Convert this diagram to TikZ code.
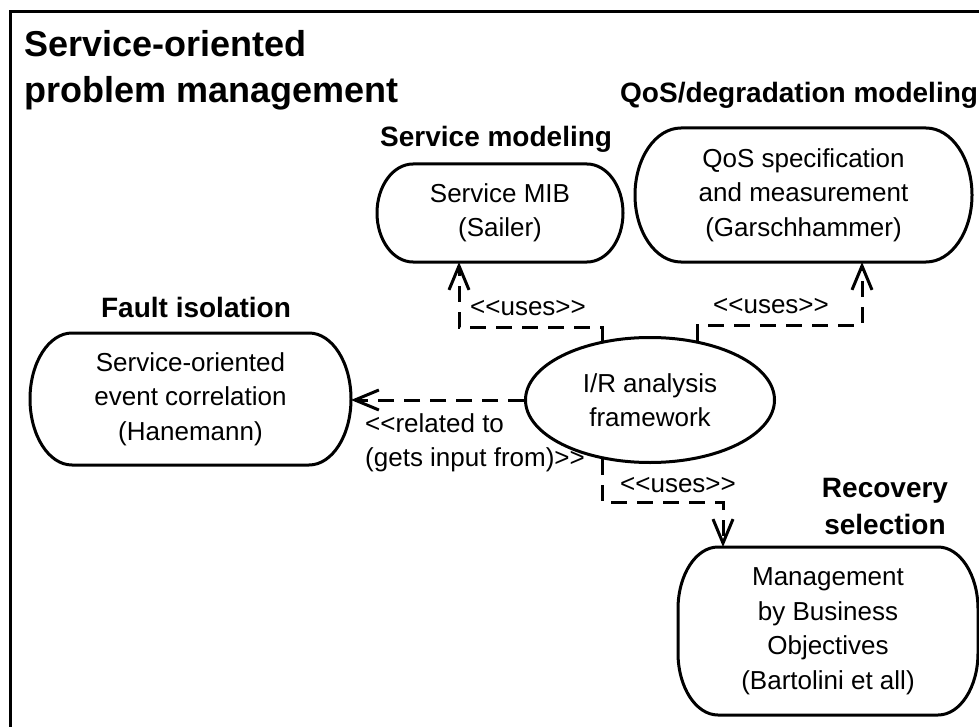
\documentclass[tikz,border=0pt]{standalone}
\usepackage{fontspec}
\setmainfont{Liberation Sans}[Ligatures=TeXOff]
\usetikzlibrary{arrows.meta,shapes.geometric,calc}

% outline of a box whose corners are quarter ellipses (x radius #2, y radius #3)
\newcommand\ellbox[3]{%
  \draw[line width=3pt]
    ($(#1.north west)+(#2,0)$) -- ($(#1.north east)+(-#2,0)$)
    .. controls ($(#1.north east)+(-0.448*#2,0)$) and ($(#1.north east)+(0,0.448*#3)$)
    .. ($(#1.north east)+(0,#3)$)
    -- ($(#1.south east)+(0,-#3)$)
    .. controls ($(#1.south east)+(0,-0.448*#3)$) and ($(#1.south east)+(-0.448*#2,0)$)
    .. ($(#1.south east)+(-#2,0)$)
    -- ($(#1.south west)+(#2,0)$)
    .. controls ($(#1.south west)+(0.448*#2,0)$) and ($(#1.south west)+(0,-0.448*#3)$)
    .. ($(#1.south west)+(0,-#3)$)
    -- ($(#1.north west)+(0,#3)$)
    .. controls ($(#1.north west)+(0,0.448*#3)$) and ($(#1.north west)+(0.448*#2,0)$)
    .. cycle;}

\begin{document}
\begin{tikzpicture}[x=1pt,y=-1pt,
  txt/.style={font=\fontsize{26}{34.5}\selectfont, align=center, inner sep=0pt},
  head/.style={font=\fontsize{28}{37}\selectfont\bfseries, align=center, inner sep=0pt},
  titletext/.style={font=\fontsize{36}{47}\selectfont\bfseries, inner sep=0pt},
  box/.style={txt, outer sep=0pt},
  conn/.style={line width=3pt, dash pattern=on 16pt off 10pt,
    -{Straight Barb[length=24pt,width=20pt]}},
]
\useasboundingbox (0,0) rectangle (979,727);
\clip (0,0) rectangle (979,727);

% outer frame (continues past the right and bottom edges)
\draw[line width=3pt] (10,12) rectangle (1100,900);

% title
\node[titletext, anchor=base west] (t1) at (24,57) {Service-oriented};
\node[titletext, anchor=base west] (t2) at (24,103) {problem management};

% area headings
\node[head, anchor=base west] (hqos) at (620,103) {QoS/degradation modeling};
\node[head, anchor=base west] (hsm) at (380,147) {Service modeling};
\node[head, anchor=base] (hfi) at (196,317) {Fault isolation};
\node[head] (hrs) at (885,507) {Recovery\\selection};

% components
\node[box, minimum width=246pt, minimum height=98pt] (sm) at (500,213)
  {Service MIB\\(Sailer)};
\node[box, minimum width=337pt, minimum height=134pt] (qos) at (803.5,195)
  {QoS specification\\and measurement\\(Garschhammer)};
\node[box, minimum width=321pt, minimum height=132pt] (fi) at (190.5,399)
  {Service-oriented\\event correlation\\(Hanemann)};
\node[box, minimum width=300pt, minimum height=168pt] (mbo) at (828,631)
  {Management\\by Business\\Objectives\\(Bartolini et all)};
\ellbox{sm}{36}{49}
\ellbox{qos}{46}{67}
\ellbox{fi}{42}{66}
\ellbox{mbo}{40}{62}
\node[txt, ellipse, draw, line width=3pt, minimum width=249pt, minimum height=125pt]
  (ir) at (650,400) {I/R analysis\\framework};

% bend points of the dependency connectors
\coordinate (b1) at (459,327);
\coordinate (b2) at (862,325);
\coordinate (b3) at (723,502);

% dependencies
\draw[conn] (ir.129) |- (b1) -- (b1 |- sm.south);
\draw[conn] (ir.51) |- (b2) -- (b2 |- qos.south);
\draw[conn] (ir.west) -- (ir.west -| fi.east);
\draw[conn] (ir.231) |- (b3) -- (b3 |- mbo.north);

% connector labels
\node[txt, anchor=base west] (l1) at (470,315) {<<uses>>};
\node[txt, anchor=base west] (l2) at (713,313) {<<uses>>};
\node[txt, anchor=base west] (l4) at (620,492) {<<uses>>};
\node[txt, align=left, anchor=west] (l3) at (365,443) {<<related to\\(gets input from)>>};
\end{tikzpicture}
\end{document}
